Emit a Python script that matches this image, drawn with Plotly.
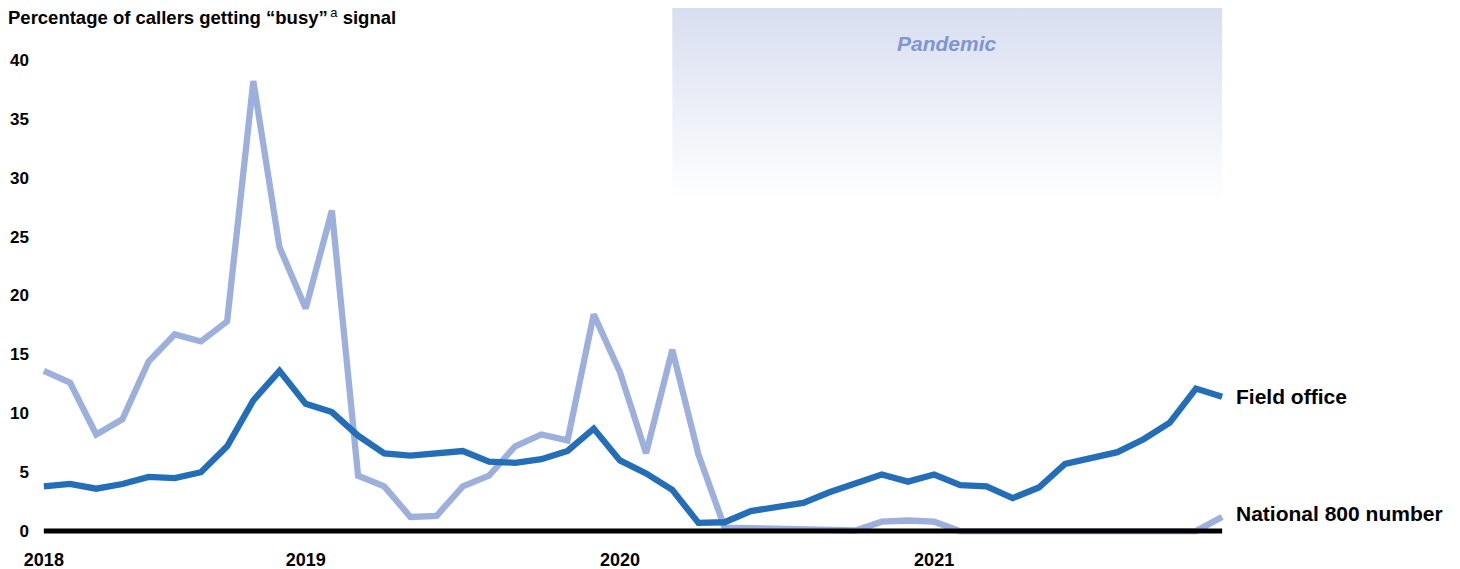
import plotly.graph_objects as go

# Monthly share of callers who got a busy signal (percent), Mar 2018 - Dec 2021
month_index = list(range(46))
field_office = [3.8, 4.0, 3.6, 4.0, 4.6, 4.5, 5.0, 7.2, 11.1, 13.6,
                10.8, 10.1, 8.1, 6.6, 6.4, 6.6, 6.8, 5.9, 5.8, 6.1,
                6.8, 8.7, 6.0, 4.9, 3.5, 0.7, 0.75, 1.7, 2.0, 2.4,
                3.3, 4.1, 4.8, 4.2, 4.8, 3.9, 3.8, 2.8, 3.7, 5.7,
                6.2, 6.7, 7.8, 9.2, 12.1, 11.4]
national_800 = [13.6, 12.6, 8.2, 9.5, 14.4, 16.7, 16.1, 17.8, 38.2, 24.1,
                18.9, 27.2, 4.7, 3.8, 1.2, 1.3, 3.8, 4.7, 7.2, 8.2,
                7.7, 18.4, 13.5, 6.6, 15.4, 6.5, 0.3, 0.25, 0.15, 0.05,
                0.1, 0.05, 0.8, 0.9, 0.8, 0.0, 0.0, 0.0, 0.0, 0.0,
                0.0, 0.0, 0.0, 0.0, 0.0, 1.2]

year_ticks = [0, 10, 22, 34]
year_labels = ["2018", "2019", "2020", "2021"]
y_ticks = [0, 5, 10, 15, 20, 25, 30, 35, 40]

pandemic_start, pandemic_end = 24, 45
pandemic_bottom, pandemic_top = 28.0, 44.4

DARK = "#236EB7"
LIGHT = "#9DAFDB"
FONT = "Liberation Sans"

fig = go.Figure()

# Pandemic band with a vertical fade
fig.add_trace(go.Scatter(
    x=[pandemic_start, pandemic_end, pandemic_end, pandemic_start, pandemic_start],
    y=[pandemic_bottom, pandemic_bottom, pandemic_top, pandemic_top, pandemic_bottom],
    mode="lines", line=dict(width=0), fill="toself",
    fillgradient=dict(type="vertical",
                      colorscale=[[0, "rgba(255,255,255,1)"], [1, "#D8DEF0"]]),
    hoverinfo="skip", showlegend=False,
))

fig.add_trace(go.Scatter(
    x=month_index, y=national_800, mode="lines",
    line=dict(color=LIGHT, width=6.3), name="National 800 number", showlegend=False,
))
fig.add_trace(go.Scatter(
    x=month_index, y=field_office, mode="lines",
    line=dict(color=DARK, width=6.3), name="Field office", showlegend=False,
))

# Zero baseline
fig.add_shape(type="line", x0=0, x1=45, y0=0, y1=0, xref="x", yref="y",
              line=dict(color="black", width=5))

fig.add_annotation(x=34.5, y=41.4, xref="x", yref="y",
                   text="<i><b>Pandemic</b></i>", showarrow=False,
                   font=dict(family=FONT, size=21, color="#8096CF"))

fig.add_annotation(x=45, y=field_office[-1], xref="x", yref="y", xanchor="left",
                   xshift=12, text="<b>Field office</b>", showarrow=False,
                   font=dict(family=FONT, size=21, color="black"))
fig.add_annotation(x=45, y=national_800[-1], xref="x", yref="y", xanchor="left",
                   xshift=12, yshift=3, text="<b>National 800 number</b>", showarrow=False,
                   font=dict(family=FONT, size=21, color="black"))

fig.update_layout(
    width=1460, height=569,
    margin=dict(l=36, r=230, t=8, b=32, autoexpand=False),
    paper_bgcolor="white", plot_bgcolor="white",
    title=dict(text="<b>Percentage of callers getting “busy”</b><sup>\u2009a</sup><b> signal</b>",
               xref="container", yref="container", x=8 / 1460, xanchor="left",
               y=1 - 18 / 569, yanchor="middle",
               font=dict(family=FONT, size=18.5, color="black")),
    xaxis=dict(range=[-0.3, 45.3], tickmode="array", tickvals=year_ticks,
               ticktext=year_labels, showgrid=False, zeroline=False, showline=False,
               ticks="", ticklabelstandoff=10, automargin=False,
               tickfont=dict(family=FONT, size=18, color="black", weight="bold")),
    yaxis=dict(range=[-0.5, 44.4], tickmode="array", tickvals=y_ticks,
               showgrid=False, zeroline=False, showline=False, ticks="",
               ticklabelstandoff=6, automargin=False,
               tickfont=dict(family=FONT, size=17, color="black", weight="bold")),
)

fig.write_html("out.html")
